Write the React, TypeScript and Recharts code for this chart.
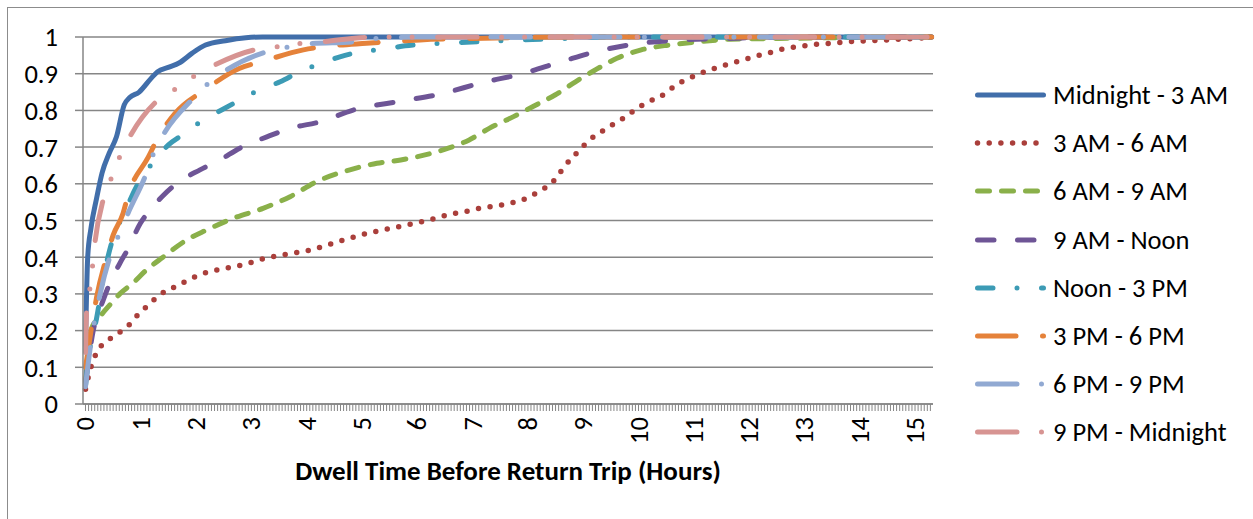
import React from 'react'
import { LineChart, Line, XAxis, YAxis, CartesianGrid, Legend } from 'recharts'

// x = dwell time in hours, y = cumulative share of return trips
const hourLabels = [0, 1, 2, 3, 4, 5, 6, 7, 8, 9, 10, 11, 12, 13, 14, 15]
const shareTicks = [0, 0.1, 0.2, 0.3, 0.4, 0.5, 0.6, 0.7, 0.8, 0.9, 1]
const minorTicksPerHour = 18

const midnightTo3am: [number, number][] = [
    [0, 0.16], [0.04, 0.4], [0.1, 0.48], [0.2, 0.56], [0.3, 0.63], [0.43, 0.684], [0.56, 0.728],
    [0.7, 0.815], [0.8, 0.835], [0.97, 0.85], [1.19, 0.888], [1.3, 0.905], [1.51, 0.918],
    [1.69, 0.929], [1.93, 0.956], [2.17, 0.978], [2.53, 0.99], [2.9, 0.998], [3.2, 1], [15.3, 1],
]
const am3To6am: [number, number][] = [
    [0, 0.04], [0.07, 0.085], [0.2, 0.14], [0.31, 0.163], [0.49, 0.182], [0.66, 0.2], [0.82, 0.22],
    [0.97, 0.247], [1.12, 0.267], [1.27, 0.288], [1.45, 0.308], [1.63, 0.32], [1.82, 0.335],
    [2.03, 0.35], [2.23, 0.36], [2.44, 0.367], [2.64, 0.373], [2.84, 0.379], [3.05, 0.388],
    [3.25, 0.397], [3.45, 0.403], [3.66, 0.409], [3.88, 0.414], [4.08, 0.42], [4.3, 0.43],
    [4.71, 0.449], [5.1, 0.465], [5.5, 0.478], [5.78, 0.487], [6.0, 0.494], [6.2, 0.501],
    [6.4, 0.509], [6.6, 0.518], [6.8, 0.522], [7.03, 0.53], [7.24, 0.536], [7.45, 0.54],
    [7.65, 0.547], [7.87, 0.554], [8.06, 0.567], [8.24, 0.583], [8.42, 0.6], [8.55, 0.624],
    [8.67, 0.649], [8.82, 0.674], [8.97, 0.698], [9.11, 0.719], [9.3, 0.739], [9.47, 0.756],
    [9.66, 0.772], [9.83, 0.79], [10.0, 0.808], [10.18, 0.824], [10.39, 0.837], [10.56, 0.856],
    [10.73, 0.874], [10.91, 0.887], [11.12, 0.901], [11.32, 0.912], [11.53, 0.922], [11.73, 0.931],
    [11.93, 0.939], [12.12, 0.948], [12.34, 0.956], [12.55, 0.965], [12.76, 0.971], [12.97, 0.975],
    [13.19, 0.98], [13.39, 0.982], [13.61, 0.985], [13.81, 0.987], [14.03, 0.989], [14.24, 0.99],
    [14.47, 0.992], [14.68, 0.994], [14.9, 0.995], [15.12, 0.997], [15.3, 0.999],
]
const am6To9am: [number, number][] = [
    [0, 0.06], [0.11, 0.206], [0.26, 0.238], [0.44, 0.27], [0.62, 0.3], [0.86, 0.33], [1.1, 0.365],
    [1.4, 0.4], [1.83, 0.447], [2.19, 0.474], [2.67, 0.506], [3.21, 0.533], [3.7, 0.565],
    [4.18, 0.606], [4.78, 0.638], [5.27, 0.656], [5.7, 0.665], [6.12, 0.678], [6.56, 0.697],
    [6.93, 0.719], [7.3, 0.751], [7.74, 0.783], [8.11, 0.812], [8.49, 0.842], [8.86, 0.878],
    [9.17, 0.906], [9.61, 0.942], [10.05, 0.965], [10.54, 0.978], [11.1, 0.987], [11.66, 0.994],
    [12.54, 0.996], [13.46, 0.998], [14.2, 1], [15.3, 1],
]
const am9ToNoon: [number, number][] = [
    [0, 0.06], [0.14, 0.2], [0.32, 0.283], [0.44, 0.329], [0.62, 0.383], [0.76, 0.42], [0.99, 0.492],
    [1.17, 0.529], [1.41, 0.569], [1.65, 0.601], [2.07, 0.638], [2.43, 0.665], [2.79, 0.697],
    [3.28, 0.728], [3.7, 0.751], [4.24, 0.769], [4.84, 0.801], [5.69, 0.825], [6.43, 0.845],
    [7.18, 0.876], [7.87, 0.899], [8.61, 0.933], [9.36, 0.965], [10.04, 0.983], [10.79, 0.992],
    [11.6, 0.996], [12.5, 1], [15.3, 1],
]
const noonTo3pm: [number, number][] = [
    [0, 0.05], [0.08, 0.15], [0.2, 0.233], [0.32, 0.34], [0.47, 0.438], [0.7, 0.52], [0.95, 0.6],
    [1.22, 0.658], [1.5, 0.706], [1.8, 0.738], [2.11, 0.772], [2.46, 0.801], [2.79, 0.828],
    [3.14, 0.856], [3.52, 0.878], [3.88, 0.906], [4.22, 0.926], [4.6, 0.946], [4.99, 0.96],
    [5.37, 0.966], [5.78, 0.976], [6.3, 0.982], [7.1, 0.987], [7.7, 0.991], [8.3, 0.994],
    [9.5, 1], [15.3, 1],
]
const pm3To6pm: [number, number][] = [
    [0, 0.1], [0.1, 0.2], [0.2, 0.29], [0.38, 0.4], [0.5, 0.46], [0.68, 0.52], [0.77, 0.569],
    [1.14, 0.674], [1.32, 0.728], [1.62, 0.792], [2.16, 0.856], [2.79, 0.915], [3.19, 0.933],
    [3.94, 0.965], [4.33, 0.974], [5.08, 0.983], [5.5, 0.987], [6.05, 0.992], [7, 0.996],
    [8, 0.999], [9, 1], [15.3, 1],
]
const pm6To9pm: [number, number][] = [
    [0, 0.047], [0.08, 0.147], [0.26, 0.297], [0.44, 0.4], [0.6, 0.46], [0.77, 0.52], [1.1, 0.628],
    [1.24, 0.686], [1.44, 0.742], [1.95, 0.833], [2.24, 0.876], [2.55, 0.91], [3.28, 0.96],
    [3.68, 0.973], [4.09, 0.982], [4.84, 0.987], [5.27, 0.996], [6, 1], [15.3, 1],
]
const pm9ToMidnight: [number, number][] = [
    [0, 0.14], [0.02, 0.25], [0.08, 0.315], [0.13, 0.379], [0.17, 0.438], [0.32, 0.556],
    [0.46, 0.613], [0.62, 0.674], [0.8, 0.728], [1.28, 0.824], [1.62, 0.858], [1.97, 0.894],
    [2.34, 0.924], [3.06, 0.965], [3.46, 0.973], [3.88, 0.982], [4.3, 0.987], [5.08, 0.999],
    [6, 1], [15.3, 1],
]

const series = [
    { key: 'm0', name: 'Midnight - 3 AM', points: midnightTo3am, color: '#416EAA', dash: undefined, width: 5 },
    { key: 'm3', name: '3 AM - 6 AM', points: am3To6am, color: '#AA3F3B', dash: '0 11.7', width: 5.5 },
    { key: 'm6', name: '6 AM - 9 AM', points: am6To9am, color: '#8AB04A', dash: '12 12', width: 5 },
    { key: 'm9', name: '9 AM - Noon', points: am9ToNoon, color: '#6E5596', dash: '16.5 23.5', width: 5 },
    { key: 'n0', name: 'Noon - 3 PM', points: noonTo3pm, color: '#3C9BB5', dash: '15.5 24 0 24.5', width: 5 },
    { key: 'p3', name: '3 PM - 6 PM', points: pm3To6pm, color: '#E5823A', dash: '38.5 26.5', width: 5 },
    { key: 'p6', name: '6 PM - 9 PM', points: pm6To9pm, color: '#91A9D2', dash: '39.5 24.5 0 25.5', width: 5 },
    { key: 'p9', name: '9 PM - Midnight', points: pm9ToMidnight, color: '#D79492', dash: '39.5 24.5 0 23 0 25.5', width: 5 },
]

const FONT = 'Carlito, Lato, sans-serif'
const FONT_SIZE = 26.5
const GRID = '#868686'

const minorTicks = Array.from({ length: 276 }, (_, i) => i / minorTicksPerHour)

function HourTick(props: any) {
    const { x, y, payload } = props
    const label = hourLabels.find(h => Math.abs(h - payload.value) < 1e-6)
    if (label === undefined) return <g />
    return (
        <text
            x={x}
            y={y}
            transform={`rotate(-90 ${x} ${y})`}
            textAnchor="end"
            dominantBaseline="central"
            fontSize={FONT_SIZE}
            fontFamily={FONT}
            fill="#000"
        >
            {label}
        </text>
    )
}

function LegendList({ payload }: any) {
    // keep the series order, not the alphabetical one
    const entries = series.filter(s => (payload || []).some((e: any) => e.value === s.name))
    return (
        <div style={{ fontFamily: FONT, fontSize: FONT_SIZE, color: '#000' }}>
            {entries.map(s => (
                <div key={s.key} style={{ height: 48.2, display: 'flex', alignItems: 'center', whiteSpace: 'nowrap' }}>
                    <svg width={81} height={12} style={{ flex: 'none' }}>
                        <line
                            x1={5.5}
                            x2={71.5}
                            y1={6}
                            y2={6}
                            stroke={s.color}
                            strokeWidth={s.width}
                            strokeDasharray={s.dash}
                            strokeLinecap="round"
                        />
                    </svg>
                    <span>{s.name}</span>
                </div>
            ))}
        </div>
    )
}

export default function App() {
    return (
        <div style={{ position: 'relative', width: 1253, height: 519, overflow: 'hidden', background: '#fff' }}>
            <style>{'body{margin:0;overflow:hidden;background:#fff}'}</style>
            <div
                style={{
                    position: 'absolute',
                    left: 7,
                    top: 7,
                    width: 1300,
                    height: 600,
                    border: '1.5px solid #8c8c8c',
                    pointerEvents: 'none',
                }}
            />
            <div style={{ position: 'absolute', left: 0, top: 0 }}>
                <LineChart width={1253} height={519} margin={{ top: 37, right: 320, bottom: 0, left: 0 }}>
                    <CartesianGrid vertical={false} stroke={GRID} strokeWidth={1.5} />
                    <XAxis
                        type="number"
                        dataKey="h"
                        domain={[-0.045, 15.325]}
                        ticks={minorTicks}
                        interval={0}
                        height={115}
                        axisLine={{ stroke: GRID, strokeWidth: 1.5 }}
                        tickLine={{ stroke: GRID, strokeWidth: 1 }}
                        tickSize={7}
                        tickMargin={6}
                        tick={<HourTick />}
                        label={{
                            content: (p: any) => (
                                <text
                                    x={p.viewBox.x + p.viewBox.width / 2}
                                    y={480}
                                    textAnchor="middle"
                                    fontSize={27}
                                    fontWeight="bold"
                                    fontFamily={FONT}
                                    fill="#000"
                                >
                                    Dwell Time Before Return Trip (Hours)
                                </text>
                            ),
                        }}
                    />
                    <YAxis
                        type="number"
                        domain={[0, 1]}
                        ticks={shareTicks}
                        interval={0}
                        width={83}
                        axisLine={{ stroke: GRID, strokeWidth: 1.5 }}
                        tickLine={{ stroke: GRID, strokeWidth: 1.5 }}
                        tickSize={8}
                        tickMargin={17}
                        tickFormatter={(v: number) => String(Math.round(v * 10) / 10)}
                        tick={{ fontSize: FONT_SIZE, fontFamily: FONT, fill: '#000' }}
                    />
                    <Legend
                        layout="vertical"
                        align="center"
                        verticalAlign="middle"
                        wrapperStyle={{ position: 'absolute', left: 972, top: 71, width: 280 }}
                        content={(props: any) => <LegendList payload={props.payload} />}
                    />
                    {series.map(s => (
                        <Line
                            key={s.key}
                            data={s.points.map(([h, v]) => ({ h, [s.key]: v }))}
                            dataKey={s.key}
                            name={s.name}
                            type="monotone"
                            stroke={s.color}
                            strokeWidth={s.width}
                            strokeDasharray={s.dash}
                            strokeLinecap="round"
                            strokeLinejoin="round"
                            dot={false}
                            activeDot={false}
                            isAnimationActive={false}
                        />
                    ))}
                </LineChart>
            </div>
        </div>
    )
}
